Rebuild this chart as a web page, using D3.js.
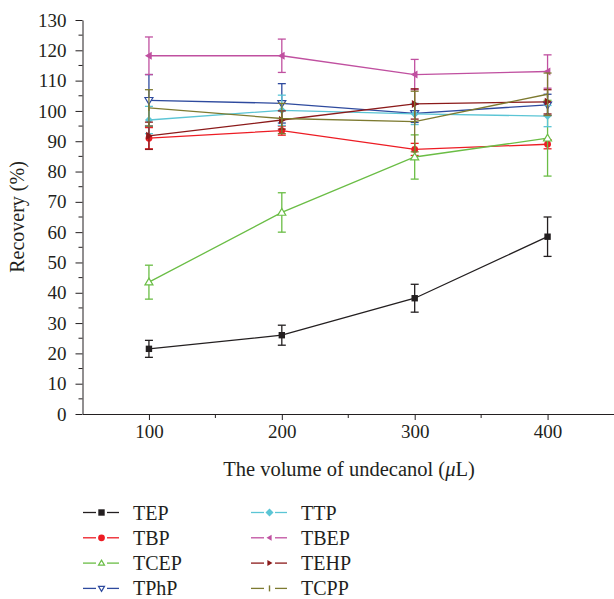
<!DOCTYPE html>
<html><head><meta charset="utf-8">
<script src="https://cdn.jsdelivr.net/npm/d3@7"></script>
<style>body{margin:0;background:#fff}svg{display:block}text{font-family:"Liberation Serif","DejaVu Serif",serif;fill:#231f20}</style>
</head><body>
<svg id="c" width="614" height="599"></svg>
<script>
const volumes = [100, 200, 300, 400];
const seriesNames = ["TEP","TBP","TCEP","TPhP","TTP","TBEP","TEHP","TCPP"];
const TEP  = [21.5, 26.0, 38.2, 58.5];
const TBP  = [91.0, 93.5, 87.3, 89.0];
const TCEP = [43.5, 66.5, 84.8, 91.0];
const TPhP = [103.5, 102.5, 99.2, 102.0];
const TTP  = [97.0, 100.2, 99.0, 98.3];
const TBEP = [118.2, 118.2, 112.0, 113.0];
const TEHP = [91.8, 97.0, 102.3, 103.0];
const TCPP = [101.0, 97.5, 96.5, 105.5];
const TEP_err  = [2.8, 3.3, 4.6, 6.5];
const TBP_err  = [3.5, 1.5, 2.0, 1.5];
const TCEP_err = [5.6, 6.5, 7.3, 12.5];
const TPhP_err = [8.5, 6.5, 3.0, 3.5];
const TTP_err  = [4.5, 5.0, 3.5, 3.5];
const TBEP_err = [6.2, 5.5, 5.0, 5.5];
const TEHP_err = [4.5, 3.0, 5.0, 4.0];
const TCPP_err = [6.0, 5.0, 10.0, 7.0];
const yTicks = [0,10,20,30,40,50,60,70,80,90,100,110,120,130];
const xTicks = [100,200,300,400];

const colors = {TEP:"#231f20",TBP:"#ed1c24",TCEP:"#6abd45",TPhP:"#2e4a9e",TTP:"#5bc5d5",TBEP:"#c050a0",TEHP:"#8b1a1a",TCPP:"#7d7a30"};
const markers = {TEP:"square",TBP:"circle",TCEP:"tri-up",TPhP:"tri-down",TTP:"diamond",TBEP:"tri-left",TEHP:"tri-right",TCPP:"bar"};
const vals = {TEP,TBP,TCEP,TPhP,TTP,TBEP,TEHP,TCPP};
const errs = {TEP:TEP_err,TBP:TBP_err,TCEP:TCEP_err,TPhP:TPhP_err,TTP:TTP_err,TBEP:TBEP_err,TEHP:TEHP_err,TCPP:TCPP_err};

const svg = d3.select("#c");
const x = d3.scaleLinear().domain([50,450]).range([82.5,614]);
const y = d3.scaleLinear().domain([0,130]).range([414,20]);

// axes
const gx = svg.append("g").attr("transform",`translate(0,${y(0)})`);
gx.call(d3.axisBottom(x).tickValues(xTicks).tickSize(6).tickSizeOuter(0).tickPadding(5));
gx.selectAll("text").style("font-size","19px");
gx.append("g").selectAll("line").data([150,250,350]).join("line")
  .attr("x1",d=>x(d)).attr("x2",d=>x(d)).attr("y1",0).attr("y2",4).attr("stroke","#231f20");

const gy = svg.append("g").attr("transform",`translate(${x(50)},0)`);
gy.call(d3.axisLeft(y).tickValues(yTicks).tickSize(7).tickSizeOuter(0).tickPadding(9));
gy.selectAll("text").style("font-size","19px");
gy.append("g").selectAll("line").data(d3.range(5,130,10)).join("line")
  .attr("x1",0).attr("x2",-4).attr("y1",d=>y(d)).attr("y2",d=>y(d)).attr("stroke","#231f20");
svg.selectAll(".domain").attr("stroke","#231f20");
svg.selectAll(".tick line").attr("stroke","#231f20");
svg.selectAll(".tick text").style("fill","#231f20");

svg.append("text").attr("transform",`translate(24,${y(65)}) rotate(-90)`).attr("text-anchor","middle")
  .style("font-size","20px").text("Recovery (%)");
const xt = svg.append("text").attr("x",349).attr("y",476).attr("text-anchor","middle").style("font-size","20.5px");
xt.append("tspan").text("The volume of undecanol (");
xt.append("tspan").style("font-style","italic").text("\u03bc");
xt.append("tspan").text("L)");

function drawMarker(g, type, cx, cy, col, s){
  const h = s;
  if(type==="square") g.append("rect").attr("x",cx-3.2).attr("y",cy-3.2).attr("width",6.4).attr("height",6.4).attr("fill",col);
  else if(type==="circle") g.append("circle").attr("cx",cx).attr("cy",cy).attr("r",3.4).attr("fill",col);
  else if(type==="tri-up") g.append("path").attr("d",`M${cx},${cy-h}L${cx+h},${cy+h*0.7}L${cx-h},${cy+h*0.7}Z`).attr("fill","#fff").attr("stroke",col).attr("stroke-width",1.2);
  else if(type==="tri-down") g.append("path").attr("d",`M${cx},${cy+h}L${cx+h},${cy-h*0.7}L${cx-h},${cy-h*0.7}Z`).attr("fill","#fff").attr("stroke",col).attr("stroke-width",1.2);
  else if(type==="diamond") g.append("path").attr("d",`M${cx},${cy-4}L${cx+4},${cy}L${cx},${cy+4}L${cx-4},${cy}Z`).attr("fill",col);
  else if(type==="tri-left") g.append("path").attr("d",`M${cx-h},${cy}L${cx+h*0.7},${cy-h}L${cx+h*0.7},${cy+h}Z`).attr("fill",col);
  else if(type==="tri-right") g.append("path").attr("d",`M${cx+h},${cy}L${cx-h*0.7},${cy-h}L${cx-h*0.7},${cy+h}Z`).attr("fill",col);
  else if(type==="bar") g.append("line").attr("x1",cx).attr("x2",cx).attr("y1",cy-3).attr("y2",cy+3).attr("stroke",col).attr("stroke-width",1.4);
}

const plot = svg.append("g");
const line = d3.line().x((d,i)=>x(volumes[i])).y(d=>y(d));
seriesNames.forEach(n=>{
  const col = colors[n];
  const g = plot.append("g");
  g.append("path").attr("d",line(vals[n])).attr("fill","none").attr("stroke",col).attr("stroke-width",1.3);
  vals[n].forEach((v,i)=>{
    const cx = x(volumes[i]), e = errs[n][i];
    g.append("line").attr("x1",cx).attr("x2",cx).attr("y1",y(v-e)).attr("y2",y(v+e)).attr("stroke",col).attr("stroke-width",1.3);
    [v-e,v+e].forEach(t=>g.append("line").attr("x1",cx-4).attr("x2",cx+4).attr("y1",y(t)).attr("y2",y(t)).attr("stroke",col).attr("stroke-width",1.3));
    drawMarker(g, markers[n], cx, y(v), col, 4);
  });
});

// legend
const lg = svg.append("g");
seriesNames.forEach((n,i)=>{
  const col = colors[n];
  const cxo = i<4 ? 83 : 251;
  const cy = 512.5 + (i%4)*25.3;
  const g = lg.append("g");
  g.append("line").attr("x1",cxo).attr("x2",cxo+13).attr("y1",cy).attr("y2",cy).attr("stroke",col).attr("stroke-width",1.3);
  g.append("line").attr("x1",cxo+24).attr("x2",cxo+36).attr("y1",cy).attr("y2",cy).attr("stroke",col).attr("stroke-width",1.3);
  drawMarker(g, markers[n], cxo+18.5, cy, col, 3);
  g.append("text").attr("x",cxo+50).attr("y",cy+7).style("font-size","20px").text(n);
});
</script>
</body></html>
